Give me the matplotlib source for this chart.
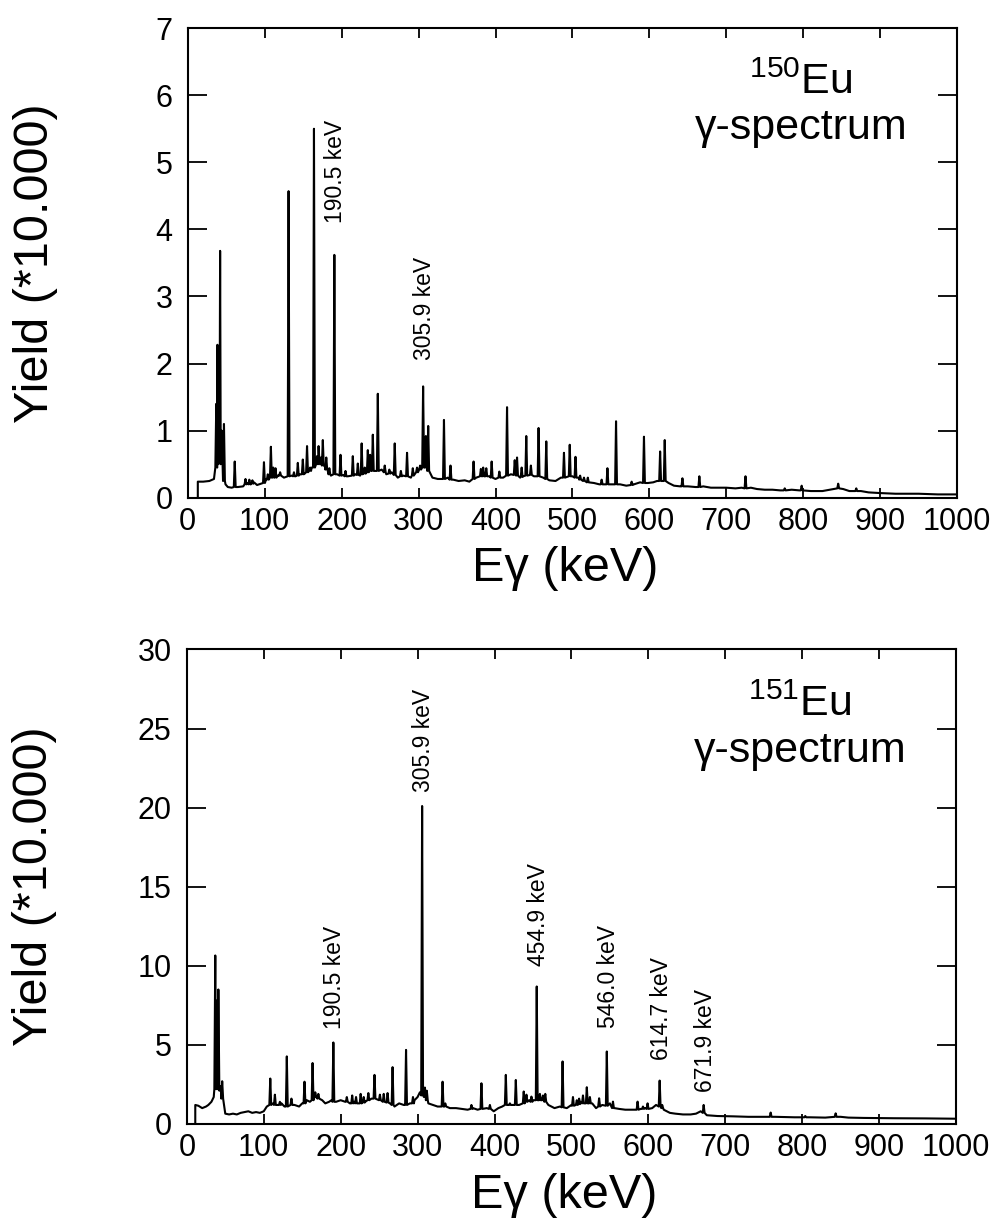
import numpy as np
import matplotlib
matplotlib.use("Agg")
import matplotlib.pyplot as plt

plt.rcParams['font.family'] = ['Liberation Sans', 'DejaVu Sans']
plt.rcParams['mathtext.fontset'] = 'custom'
plt.rcParams['mathtext.rm'] = 'Liberation Sans'

# ---------------- 150Eu spectrum ----------------
# continuum knots (keV, yield in units of 10.000)
eu150_cont_e = [13, 13, 20, 28, 34, 36, 49, 52, 57, 65, 72, 78, 82, 86, 90, 95,
                102, 112, 118, 125, 135, 140, 146, 152, 158, 161, 167, 172, 178,
                182, 186, 194, 202, 208, 218, 224, 230, 244, 252, 258, 265, 273,
                280, 290, 297, 302, 309, 318, 325, 330, 338, 345, 352, 360, 366,
                375, 392, 400, 410, 420, 432, 436, 447, 450, 462, 470, 478, 485,
                500, 508, 515, 520, 528, 535, 550, 562, 570, 580, 588, 598, 605,
                610, 625, 632, 640, 650, 660, 670, 680, 690, 700, 712, 720, 732,
                740, 750, 760, 770, 785, 795, 810, 825, 835, 852, 860, 875, 885,
                900, 920, 950, 975, 1000]
eu150_cont_y = [0.0, 0.24, 0.24, 0.25, 0.28, 0.4, 0.2, 0.16, 0.15, 0.16, 0.17,
                0.22, 0.2, 0.23, 0.19, 0.21, 0.28, 0.3, 0.34, 0.3, 0.33, 0.32,
                0.35, 0.36, 0.4, 0.45, 0.55, 0.5, 0.48, 0.4, 0.33, 0.35, 0.34,
                0.32, 0.35, 0.33, 0.37, 0.4, 0.42, 0.35, 0.38, 0.3, 0.33, 0.3,
                0.35, 0.4, 0.45, 0.3, 0.28, 0.28, 0.3, 0.27, 0.25, 0.26, 0.24,
                0.3, 0.32, 0.28, 0.3, 0.35, 0.3, 0.32, 0.35, 0.32, 0.3, 0.26,
                0.25, 0.3, 0.32, 0.3, 0.27, 0.25, 0.22, 0.2, 0.2, 0.2, 0.18, 0.2,
                0.23, 0.22, 0.23, 0.25, 0.22, 0.18, 0.17, 0.17, 0.16, 0.17, 0.15,
                0.15, 0.15, 0.14, 0.15, 0.15, 0.13, 0.12, 0.12, 0.11, 0.12, 0.11,
                0.1, 0.1, 0.12, 0.13, 0.1, 0.1, 0.08, 0.07, 0.06, 0.06, 0.05, 0.05]
# gamma lines: energy, peak top, level at the foot of the line
eu150_peak_e = [37, 38.5, 40, 42, 44, 47, 61, 75, 80, 84, 99, 104, 108, 111, 114,
                120, 131, 138, 143, 149.5, 155, 159, 164, 168, 170, 173, 175.5,
                180, 184, 190.5, 198.5, 205, 214.5, 221, 226, 230, 234, 237,
                240.5, 247, 256, 262, 269, 277, 285, 292.5, 298, 302, 305.9,
                309.5, 312.5, 333, 341.5, 371.5, 381, 384, 388, 395, 405, 415,
                425, 428, 434, 440, 446, 456, 466, 489, 496.5, 504, 510, 515, 520,
                538, 545.5, 556.7, 577, 593, 614, 620, 643, 665, 725, 776, 798,
                845.5, 869]
eu150_peak_top = [1.4, 2.28, 2.15, 3.68, 1.0, 1.1, 0.54, 0.28, 0.27, 0.26, 0.53,
                  0.35, 0.76, 0.45, 0.44, 0.38, 4.57, 0.38, 0.52, 0.57, 0.77, 0.45,
                  5.5, 0.62, 0.77, 0.6, 0.86, 0.6, 0.44, 3.62, 0.64, 0.4, 0.62,
                  0.51, 0.81, 0.45, 0.71, 0.64, 0.94, 1.55, 0.48, 0.42, 0.81, 0.4,
                  0.67, 0.44, 0.45, 0.48, 1.66, 0.92, 1.07, 1.16, 0.48, 0.54, 0.43,
                  0.45, 0.44, 0.54, 0.39, 1.35, 0.56, 0.6, 0.45, 0.92, 0.48, 1.04,
                  0.84, 0.67, 0.79, 0.61, 0.33, 0.3, 0.3, 0.27, 0.44, 1.14, 0.24,
                  0.91, 0.69, 0.86, 0.29, 0.32, 0.32, 0.14, 0.18, 0.21, 0.14]
eu150_peak_base = [0.45, 0.5, 0.6, 0.55, 0.5, 0.25, 0.16, 0.2, 0.2, 0.21, 0.22,
                   0.27, 0.3, 0.3, 0.3, 0.33, 0.32, 0.32, 0.33, 0.35, 0.38, 0.4,
                   0.45, 0.5, 0.52, 0.5, 0.48, 0.42, 0.35, 0.35, 0.33, 0.32, 0.33,
                   0.34, 0.35, 0.36, 0.38, 0.4, 0.4, 0.4, 0.38, 0.36, 0.34, 0.32,
                   0.32, 0.33, 0.38, 0.42, 0.45, 0.45, 0.4, 0.28, 0.27, 0.28, 0.32,
                   0.32, 0.32, 0.3, 0.3, 0.33, 0.34, 0.33, 0.31, 0.33, 0.34, 0.32,
                   0.28, 0.3, 0.32, 0.3, 0.27, 0.25, 0.23, 0.2, 0.2, 0.2, 0.19,
                   0.22, 0.25, 0.25, 0.17, 0.16, 0.14, 0.11, 0.11, 0.14, 0.1]
eu150_labels = [190.5, 305.9]
eu150_label_gap = [23, 19]   # points between line top and its label

# ---------------- 151Eu spectrum ----------------
eu151_cont_e = [11, 11, 15, 20, 25, 28, 32, 35, 50, 55, 60, 65, 70, 75, 80, 85,
                90, 95, 100, 104, 112, 118, 123, 127, 135, 140, 146, 150, 156,
                160, 167, 172, 176, 180, 185, 188, 194, 200, 206, 212, 218, 225,
                232, 240, 250, 255, 264, 270, 276, 282, 290, 296, 300, 303, 309,
                314, 320, 326, 330, 337, 342, 350, 358, 365, 372, 378, 390, 399,
                405, 410, 420, 432, 445, 450, 460, 470, 478, 485, 494, 500, 508,
                512, 527, 532, 540, 550, 556, 562, 570, 580, 590, 596, 605, 610,
                620, 628, 635, 645, 655, 662, 668, 676, 690, 710, 730, 750, 765,
                790, 810, 830, 850, 860, 880, 920, 960, 1000]
eu151_cont_y = [0.0, 1.2, 1.15, 1.0, 1.1, 1.2, 1.4, 1.7, 0.65, 0.6, 0.65, 0.6,
                0.7, 0.75, 0.8, 0.7, 0.75, 0.7, 0.8, 1.1, 1.3, 1.2, 1.3, 1.1, 1.3,
                1.2, 1.1, 1.3, 1.5, 1.4, 1.9, 1.7, 1.5, 1.3, 1.4, 1.5, 1.4, 1.5,
                1.4, 1.3, 1.4, 1.3, 1.4, 1.6, 1.5, 1.4, 1.3, 1.1, 1.3, 1.2, 1.3,
                1.5, 1.7, 2.0, 1.8, 1.3, 1.2, 1.1, 1.1, 1.2, 1.0, 1.0, 0.95, 0.9,
                1.0, 0.9, 1.0, 0.8, 1.0, 1.1, 1.3, 1.2, 1.5, 1.5, 1.6, 1.2, 1.0,
                1.1, 1.0, 1.2, 1.3, 1.4, 1.3, 1.0, 1.2, 1.3, 1.0, 0.95, 0.9, 0.9,
                0.95, 1.0, 1.0, 1.2, 0.9, 0.7, 0.65, 0.6, 0.6, 0.65, 0.8, 0.55,
                0.5, 0.48, 0.45, 0.45, 0.45, 0.42, 0.42, 0.4, 0.45, 0.4, 0.38,
                0.36, 0.35, 0.33]
eu151_peak_e = [37, 39, 41, 43.5, 46, 108.5, 114.5, 121, 130, 136, 153, 163.5,
                167, 171, 190.5, 208, 215, 220, 226, 230, 236, 244, 251, 256,
                261, 267.5, 285, 294, 305.9, 309.5, 312, 332.5, 336, 370, 383,
                394, 414.7, 420, 427.7, 438, 441.5, 448, 454.9, 459, 463, 466,
                488.5, 502, 507, 510, 515, 520, 524, 536, 546.0, 554, 586, 593,
                599, 614.7, 618, 671.9, 759, 804, 843.5]
eu151_peak_top = [10.65, 7.8, 8.5, 2.4, 2.7, 2.87, 1.85, 1.4, 4.27, 1.6, 2.67,
                  3.85, 2.0, 1.9, 5.15, 1.7, 1.8, 1.7, 1.9, 1.7, 1.95, 3.1, 1.85,
                  1.9, 1.95, 3.59, 4.68, 1.7, 20.1, 2.3, 2.1, 2.67, 1.3, 1.2, 2.57,
                  1.2, 3.1, 1.3, 2.78, 2.05, 1.85, 1.73, 8.69, 1.9, 1.8, 1.9, 3.95,
                  1.7, 1.5, 1.6, 1.8, 2.32, 1.7, 1.62, 4.58, 1.41, 1.41, 1.1, 1.3,
                  2.74, 1.2, 1.2, 0.72, 0.5, 0.67]
eu151_peak_base = [2.2, 2.2, 2.2, 2.1, 1.6, 1.2, 1.2, 1.2, 1.1, 1.2, 1.3, 1.5,
                   1.7, 1.6, 1.4, 1.4, 1.3, 1.3, 1.3, 1.35, 1.5, 1.6, 1.5, 1.4,
                   1.35, 1.2, 1.2, 1.3, 1.8, 1.7, 1.5, 1.1, 1.1, 0.95, 0.95, 0.95,
                   1.2, 1.2, 1.2, 1.3, 1.4, 1.4, 1.5, 1.5, 1.5, 1.4, 1.05, 1.15,
                   1.2, 1.25, 1.3, 1.3, 1.3, 1.1, 1.15, 1.0, 0.9, 0.95, 0.95, 1.1,
                   1.0, 0.7, 0.45, 0.42, 0.45]
eu151_labels = [190.5, 305.9, 454.9, 546.0, 614.7, 671.9]
eu151_label_gap = [10, 10, 15, 17, 15, 9]

x_ticks = list(range(0, 1001, 100))


def build_trace(cont_e, cont_y, peak_e, peak_top, peak_base, hw=1.2):
    # continuum knots that fall under a line are left out
    e, y = [], []
    for ce, cy in zip(cont_e, cont_y):
        if all(abs(ce - pe) > hw for pe in peak_e):
            e.append(ce)
            y.append(cy)
    for pe, pt, pb in zip(peak_e, peak_top, peak_base):
        e += [pe - hw, pe, pe + hw]
        y += [pb, pt, pb]
    order = np.argsort(e, kind='stable')
    return np.array(e)[order], np.array(y)[order]


def draw_panel(ax, trace, peak_e, peak_top, labels, gaps, ymax, ystep, mass):
    e, y = trace
    ax.plot(e, y, color='black', lw=1.5)
    ax.set_xlim(0, 1000)
    ax.set_ylim(0, ymax)
    ax.set_xticks(x_ticks)
    ax.set_yticks(np.arange(0, ymax + 0.1, ystep))
    ax.tick_params(direction='in', top=True, right=True, width=1.3,
                   labelsize=22)
    ax.tick_params(axis='x', length=7, pad=6.5)
    ax.tick_params(axis='y', length=14, pad=11)
    for s in ax.spines.values():
        s.set_linewidth(1.5)

    for lab, gap in zip(labels, gaps):
        top = peak_top[peak_e.index(lab)]
        ax.annotate(f"{lab:.1f} keV", xy=(lab, top), xytext=(1, gap),
                    textcoords='offset points', rotation=90,
                    ha='center', va='bottom', fontsize=16.5)

    ax.text(0.797, 0.86, r'$\mathregular{^{%d}}$Eu' % mass,
            transform=ax.transAxes, ha='center', va='baseline', fontsize=31)
    ax.text(0.797, 0.763, 'γ-spectrum', transform=ax.transAxes,
            ha='center', va='baseline', fontsize=31)

    ax.text(0.49, -0.178, 'Eγ (keV)', transform=ax.transAxes,
            ha='center', va='baseline', fontsize=35)
    ax.text(-0.198, 0.5, 'Yield (*10.000)', transform=ax.transAxes,
            rotation=90, ha='center', va='center', fontsize=35)


fig = plt.figure(figsize=(9.99, 12.23), dpi=100)
ax1 = fig.add_axes([0.188, 0.593, 0.770, 0.384])
ax2 = fig.add_axes([0.187, 0.081, 0.770, 0.388])

tr150 = build_trace(eu150_cont_e, eu150_cont_y, eu150_peak_e, eu150_peak_top,
                    eu150_peak_base)
tr151 = build_trace(eu151_cont_e, eu151_cont_y, eu151_peak_e, eu151_peak_top,
                    eu151_peak_base)

draw_panel(ax1, tr150, eu150_peak_e, eu150_peak_top, eu150_labels,
           eu150_label_gap, 7, 1, 150)
draw_panel(ax2, tr151, eu151_peak_e, eu151_peak_top, eu151_labels,
           eu151_label_gap, 30, 5, 151)

fig.savefig('out.png', dpi=100)
